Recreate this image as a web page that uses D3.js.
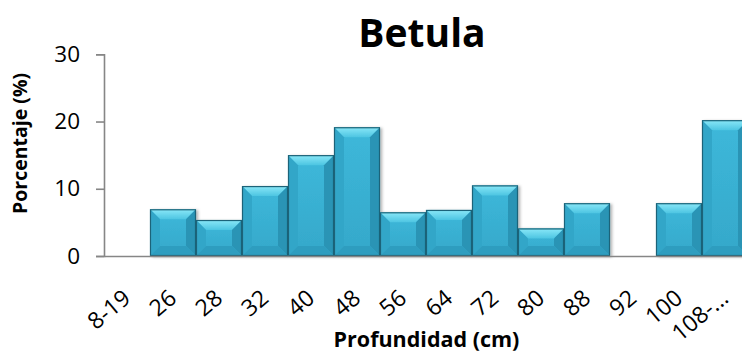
<!DOCTYPE html>
<html>
<head>
<meta charset="utf-8">
<script src="https://cdn.jsdelivr.net/npm/d3@7"></script>
<style>
  html, body { margin: 0; padding: 0; background: #fff; }
  svg { display: block; font-family: "Open Sans", Lato, sans-serif; }
</style>
</head>
<body>
<svg id="chart" width="742" height="352"></svg>
<script>
const title = "Betula";
const categories = ["8-19", "26", "28", "32", "40", "48", "56", "64", "72", "80", "88", "92", "100", "108-..."];
const values = [0, 6.95, 5.35, 10.4, 15.0, 19.15, 6.5, 6.85, 10.5, 4.1, 7.85, 0, 7.85, 20.2];
const yTicks = [0, 10, 20, 30];
const yLabel = "Porcentaje (%)";
const xLabel = "Profundidad (cm)";

const FONT = "'Open Sans', Lato, sans-serif";
const svg = d3.select("#chart");
const mLeft = 104, mRight = 748, mTop = 54.3, mBottom = 256;

const x = d3.scaleBand().domain(categories).range([mLeft, mRight]).padding(0);
const y = d3.scaleLinear().domain([0, 30]).range([mBottom, mTop]);

const defs = svg.append("defs");
const gTop = defs.append("linearGradient").attr("id", "gTop").attr("x1", 0).attr("y1", 0).attr("x2", 0).attr("y2", 1);
gTop.append("stop").attr("offset", "0%").attr("stop-color", "#8ae8f8");
gTop.append("stop").attr("offset", "100%").attr("stop-color", "#4dc5e2");
const gFace = defs.append("linearGradient").attr("id", "gFace").attr("x1", 0).attr("y1", 0).attr("x2", 0).attr("y2", 1);
gFace.append("stop").attr("offset", "0%").attr("stop-color", "#3db8da");
gFace.append("stop").attr("offset", "100%").attr("stop-color", "#35a8ca");
const sh = defs.append("filter").attr("id", "shadow").attr("x", "-20%").attr("y", "-20%").attr("width", "140%").attr("height", "140%");
sh.append("feDropShadow").attr("dx", 2).attr("dy", 1).attr("stdDeviation", 1.5).attr("flood-color", "#000").attr("flood-opacity", 0.3);

// title
svg.append("text").attr("x", 422).attr("y", 47).attr("text-anchor", "middle")
  .attr("font-family", FONT).attr("font-size", 39).attr("font-weight", "bold").attr("fill", "#000").text(title);

// bars
const data = categories.map((c, i) => ({ c, v: values[i] })).filter(d => d.v > 0);
const bars = svg.append("g");
data.forEach(d => {
  const x0 = x(d.c), x1 = x(d.c) + x.bandwidth();
  const y0 = y(d.v), y1 = y(0);
  const b = Math.min(10, (y1 - y0) / 2.5, (x1 - x0) / 4);
  const g = bars.append("g").attr("filter", "url(#shadow)");
  g.append("rect").attr("x", x0).attr("y", y0).attr("width", x1 - x0).attr("height", y1 - y0)
    .attr("fill", "url(#gFace)");
  const poly = (pts, fill) => g.append("polygon").attr("points", pts.map(p => p.join(",")).join(" ")).attr("fill", fill);
  poly([[x0, y0], [x1, y0], [x1 - b, y0 + b], [x0 + b, y0 + b]], "url(#gTop)");
  poly([[x0, y0], [x0 + b, y0 + b], [x0 + b, y1 - b], [x0, y1]], "#33a6c8");
  poly([[x1, y0], [x1 - b, y0 + b], [x1 - b, y1 - b], [x1, y1]], "#2b94b5");
  poly([[x0, y1], [x0 + b, y1 - b], [x1 - b, y1 - b], [x1, y1]], "#2f9dbf");
  g.append("rect").attr("x", x0 + 0.5).attr("y", y0 + 0.5).attr("width", x1 - x0 - 1).attr("height", y1 - y0 - 1)
    .attr("fill", "none").attr("stroke", "#1d6479").attr("stroke-width", 1.2);
});

// y axis
const yAxis = svg.append("g").attr("transform", `translate(${mLeft},0)`)
  .call(d3.axisLeft(y).tickValues(yTicks).tickSize(8).tickPadding(16).tickFormat(d3.format("d")));
yAxis.select(".domain").attr("stroke", "#868686").attr("stroke-width", 1.6);
yAxis.selectAll(".tick line").attr("stroke", "#868686").attr("stroke-width", 1.6);
yAxis.selectAll(".tick text").attr("font-size", 22.5).attr("fill", "#000").attr("font-family", FONT);

// x axis
const xAxis = svg.append("g").attr("transform", `translate(0,${mBottom})`)
  .call(d3.axisBottom(x).tickSize(0).tickPadding(0));
xAxis.select(".domain").attr("stroke", "#868686").attr("stroke-width", 1.6);
xAxis.selectAll(".tick text")
  .attr("font-size", 23).attr("fill", "#000").attr("font-family", FONT)
  .attr("text-anchor", "end").attr("dy", null)
  .attr("transform", "translate(5,44.5) rotate(-40)");

// axis labels
svg.append("text").attr("transform", "translate(27,143.5) rotate(-90)").attr("text-anchor", "middle")
  .attr("font-family", FONT).attr("font-size", 19.5).attr("font-weight", "bold").attr("fill", "#000").text(yLabel);
svg.append("text").attr("x", 426.5).attr("y", 347).attr("text-anchor", "middle")
  .attr("font-family", FONT).attr("font-size", 21.5).attr("font-weight", "bold").attr("fill", "#000").text(xLabel);
</script>
</body>
</html>
